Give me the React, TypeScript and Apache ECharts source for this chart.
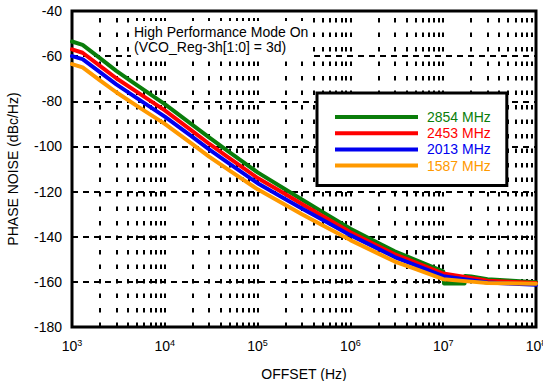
import React, { useEffect, useRef } from "react";
import * as echarts from "echarts";

const FREQ = [1e3, 1.3e3, 2e3, 3e3, 5e3, 1e4, 2e4, 3e4, 5e4, 1e5, 2e5, 3e5, 5e5, 1e6, 2e6, 3e6, 5e6, 1e7, 2e7, 3e7, 5e7, 1e8];

const GREEN_2854 = [-53.5, -55, -60.9, -66.5, -72.8, -81.3, -90.6, -96, -102.6, -111.5, -119.1, -123.5, -129.0, -136.5, -142.8, -146.5, -150.2, -155.3, -157.6, -158.8, -159.4, -160.2];
const RED_2453 = [-57, -58.5, -64.3, -69.8, -75.8, -84, -93.3, -98.8, -105.3, -114, -121.2, -125.5, -130.8, -138, -144.2, -147.8, -151.4, -156.3, -158.3, -159.5, -159.9, -160.5];
const BLUE_2013 = [-60, -61.3, -67.1, -72.5, -78.6, -86.8, -95.9, -101.3, -107.7, -116.3, -123.4, -127.5, -132.5, -139.3, -145.4, -149, -152.6, -157.5, -159.3, -160.3, -160.7, -161.3];
const ORANGE_1587 = [-63.5, -65, -70.7, -76, -82, -90, -99.1, -104.5, -110.7, -119, -125.9, -130, -134.9, -141.5, -147.5, -151, -154.3, -158.8, -159.9, -160.5, -160.6, -160.8];

// glitch seen on the 2854 MHz trace just above 10 MHz
const GREEN_GLITCH_F = [1.02e7, 1.7e7, 1.72e7];
const GREEN_GLITCH_V = [-160.7, -160.7, -157.4];

const SERIES_NAMES = ["2854 MHz", "2453 MHz", "2013 MHz", "1587 MHz"];
const SERIES_COLORS = ["#0a7d0a", "#ff0000", "#0000f0", "#ff9900"];

const Y_TICKS = [-180, -160, -140, -120, -100, -80, -60, -40];
const DECADES = [3, 4, 5, 6, 7];
const MINOR_MULTS = [2, 3, 4, 5, 6, 7, 8, 9, 10];

const FONT = "'Liberation Sans', Arial, Helvetica, sans-serif";

function pairs(xs: number[], ys: number[]) {
  return xs.map((x, i) => [x, ys[i]]);
}

function greenData() {
  const base = pairs(FREQ, GREEN_2854);
  const idx = FREQ.indexOf(1e7);
  const glitch = pairs(GREEN_GLITCH_F, GREEN_GLITCH_V);
  return [...base.slice(0, idx + 1), ...glitch, ...base.slice(idx + 1)];
}

export default function App() {
  const ref = useRef<HTMLDivElement>(null);
  useEffect(() => {
    if (!ref.current) return;
    const chart = echarts.init(ref.current, null, { renderer: "svg" });
    const vLines: any[] = [];
    DECADES.forEach((d) => {
      MINOR_MULTS.forEach((m) => {
        const v = m * Math.pow(10, d);
        if (v < 1e8) vLines.push({ xAxis: v });
      });
    });
    const datasets = [
      greenData(),
      pairs(FREQ, RED_2453),
      pairs(FREQ, BLUE_2013),
      pairs(FREQ, ORANGE_1587),
    ];
    const series: any[] = datasets.map((d, i) => ({
      type: "line",
      name: SERIES_NAMES[i],
      data: d,
      showSymbol: false,
      smooth: false,
      lineStyle: { color: SERIES_COLORS[i], width: 4, join: "round", cap: "round" },
      itemStyle: { color: SERIES_COLORS[i] },
      z: 3 + i,
      ...(i === 0
        ? {
            markLine: {
              silent: true,
              symbol: "none",
              label: { show: false },
              animation: false,
              lineStyle: { color: "#000", width: 2, type: [4.5, 10] },
              data: vLines,
              z: 1,
            },
          }
        : {}),
    }));

    chart.setOption({
      animation: false,
      textStyle: { fontFamily: FONT },
      title: {
        text: "High Performance Mode On\n(VCO_Reg-3h[1:0] = 3d)",
        left: 131,
        top: 21,
        padding: [3, 3, 5, 3],
        backgroundColor: "#fff",
        textStyle: {
          fontFamily: FONT,
          fontSize: 14,
          fontWeight: "normal",
          color: "#000",
          lineHeight: 15,
        },
      },
      legend: {
        orient: "vertical",
        left: 317,
        top: 93,
        padding: [17, 16, 13, 18],
        backgroundColor: "#fff",
        borderColor: "#000",
        borderWidth: 3,
        itemWidth: 83,
        itemHeight: 4,
        itemGap: 2.2,
        icon: "rect",
        selectedMode: false,
        data: SERIES_NAMES.map((n, i) => ({
          name: n,
          textStyle: { color: SERIES_COLORS[i] },
        })),
        textStyle: {
          fontFamily: FONT,
          fontSize: 14,
          lineHeight: 12,
          padding: [0, 0, 0, 4],
        },
        z: 10,
      },
      grid: {
        left: 72,
        right: 7,
        top: 11,
        bottom: 54,
        show: true,
        containLabel: false,
        outerBoundsMode: "none",
        borderColor: "#000",
        borderWidth: 3,
        backgroundColor: "#fff",
      },
      xAxis: {
        type: "log",
        logBase: 10,
        min: 1e3,
        max: 1e8,
        name: "OFFSET (Hz)",
        nameLocation: "middle",
        nameGap: 40,
        nameTextStyle: { fontFamily: FONT, fontSize: 14, color: "#000", verticalAlign: "top" },
        axisLine: { show: false },
        axisTick: { show: false },
        splitLine: { show: false },
        axisLabel: {
          margin: 11,
          color: "#000",
          formatter: (v: number) => `{b|10}{s|${Math.round(Math.log10(v))}}`,
          rich: {
            b: { fontFamily: FONT, fontSize: 14, color: "#000" },
            s: { fontFamily: FONT, fontSize: 9, color: "#000", padding: [0, 0, 7, 0] },
          },
        },
      },
      yAxis: {
        type: "value",
        min: Y_TICKS[0],
        max: Y_TICKS[Y_TICKS.length - 1],
        interval: 20,
        name: "PHASE NOISE (dBc/Hz)",
        nameLocation: "middle",
        nameGap: 52,
        nameTextStyle: { fontFamily: FONT, fontSize: 14, color: "#000" },
        axisLine: { show: false },
        axisTick: { show: false },
        axisLabel: { margin: 10, color: "#000", fontFamily: FONT, fontSize: 14 },
        splitLine: { show: true, lineStyle: { color: "#000", width: 2, type: [6, 5] } },
      },
      series,
    });
    return () => chart.dispose();
  }, []);
  return (
    <div
      ref={ref}
      style={{ position: "fixed", left: 0, top: 0, width: 543, height: 381, background: "#fff" }}
    />
  );
}
